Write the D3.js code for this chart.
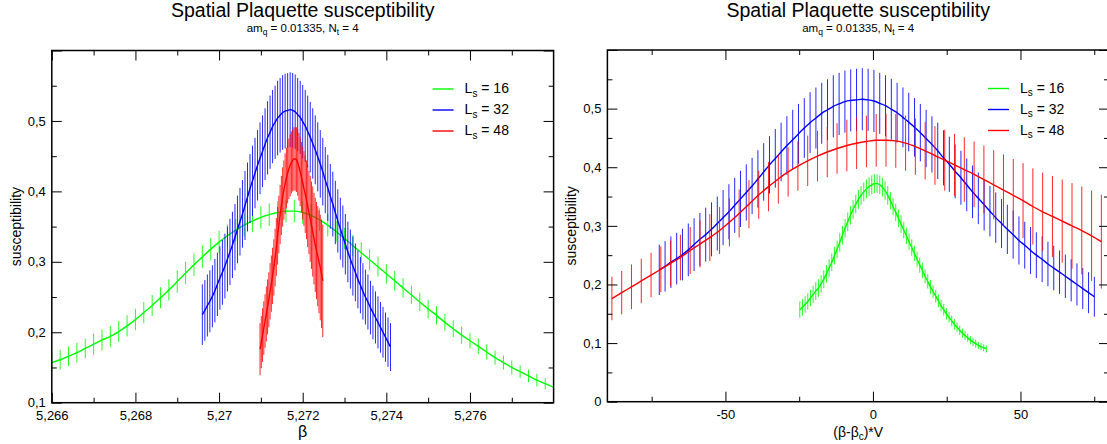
<!DOCTYPE html>
<html>
<head>
<meta charset="utf-8">
<script src="https://cdn.jsdelivr.net/npm/d3@7"></script>
<style>
  body { margin: 0; background: #fff; }
  text { font-family: "Liberation Sans", Arial, sans-serif; fill: #000; }
</style>
</head>
<body>
<svg id="chart" width="1107" height="444"></svg>
<script>
// ---- data ----
const latticeSizes = [16, 32, 48];
const seriesColors = ["#00ff00", "#0000ff", "#ff0000"];
// beta grid of each reweighted curve (first point, spacing)
const betaStart = [5.2660, 5.2696, 5.27098];
const betaStep = [0.0002, 0.00006, 0.00003];
// critical beta and volume factor used for the scaling plot
const betaCrit = [5.27149, 5.27181, 5.27178];
const scaleVolume = [4517, 32768, 110592];

const chiL16 = [0.157,0.161,0.166,0.171,0.177,0.183,0.189,0.194,0.201,0.209,
  0.218,0.228,0.238,0.249,0.260,0.272,0.284,0.296,0.307,0.318,
  0.328,0.337,0.345,0.352,0.358,0.363,0.367,0.370,0.372,0.372,
  0.370,0.366,0.360,0.352,0.343,0.333,0.323,0.313,0.303,0.293,
  0.283,0.273,0.263,0.253,0.243,0.233,0.224,0.214,0.205,0.196,
  0.188,0.180,0.172,0.164,0.157,0.150,0.144,0.138,0.132,0.127,
  0.122,0.117,0.113,0.109,0.105,0.102,0.099,0.096,0.094,0.092,
  0.090];
const errL16 = [0.014,0.014,0.014,0.014,0.014,0.015,0.015,0.015,0.015,0.015,
  0.015,0.015,0.015,0.015,0.015,0.016,0.016,0.016,0.016,0.016,
  0.016,0.016,0.016,0.016,0.016,0.016,0.016,0.016,0.016,0.016,
  0.016,0.016,0.016,0.016,0.015,0.015,0.015,0.015,0.015,0.014,
  0.014,0.014,0.014,0.013,0.013,0.013,0.013,0.012,0.012,0.012,
  0.011,0.011,0.011,0.010,0.010,0.010,0.009,0.009,0.009,0.008,
  0.008,0.008,0.008,0.007,0.007,0.007,0.007,0.006,0.006,0.006,
  0.006];

const chiL32 = [0.225,0.231,0.238,0.244,0.251,0.259,0.268,0.277,0.285,0.294,
  0.304,0.314,0.324,0.335,0.346,0.357,0.368,0.380,0.392,0.404,
  0.415,0.426,0.437,0.447,0.457,0.467,0.476,0.484,0.492,0.498,
  0.504,0.508,0.512,0.514,0.515,0.516,0.515,0.513,0.509,0.505,
  0.499,0.493,0.485,0.477,0.468,0.459,0.449,0.439,0.428,0.416,
  0.405,0.393,0.382,0.370,0.358,0.347,0.336,0.325,0.314,0.304,
  0.294,0.285,0.275,0.267,0.258,0.250,0.243,0.235,0.228,0.221,
  0.214,0.207,0.200,0.193,0.186,0.179];
const errL32 = [0.043,0.043,0.044,0.044,0.044,0.045,0.045,0.045,0.046,0.046,
  0.046,0.047,0.047,0.047,0.048,0.048,0.048,0.049,0.049,0.049,
  0.050,0.050,0.050,0.051,0.051,0.051,0.052,0.052,0.052,0.052,
  0.053,0.053,0.053,0.053,0.053,0.053,0.053,0.053,0.052,0.052,
  0.052,0.051,0.051,0.050,0.050,0.049,0.049,0.048,0.048,0.047,
  0.047,0.046,0.046,0.045,0.045,0.044,0.044,0.043,0.043,0.042,
  0.042,0.041,0.041,0.040,0.040,0.039,0.039,0.038,0.038,0.037,
  0.037,0.036,0.036,0.035,0.035,0.034];

const chiL48 = [0.176,0.186,0.196,0.206,0.216,0.226,0.236,0.246,0.258,0.269,
  0.280,0.292,0.306,0.321,0.337,0.353,0.367,0.380,0.392,0.402,
  0.411,0.419,0.426,0.432,0.437,0.441,0.444,0.446,0.446,0.445,
  0.441,0.435,0.428,0.420,0.412,0.404,0.396,0.388,0.379,0.370,
  0.361,0.352,0.343,0.333,0.324,0.316,0.308,0.300,0.292,0.283,
  0.273];
const errL48 = [0.037,0.037,0.038,0.038,0.038,0.039,0.039,0.039,0.040,0.040,
  0.040,0.040,0.041,0.041,0.041,0.041,0.042,0.042,0.042,0.042,
  0.043,0.043,0.043,0.043,0.044,0.044,0.044,0.045,0.045,0.046,
  0.047,0.048,0.049,0.050,0.052,0.053,0.055,0.056,0.058,0.059,
  0.061,0.062,0.064,0.065,0.067,0.069,0.071,0.073,0.075,0.077,
  0.080];

const chiSeries = [chiL16, chiL32, chiL48];
const errSeries = [errL16, errL32, errL48];

// ticks
const betaTicks = [5.266, 5.268, 5.270, 5.272, 5.274, 5.276];
const betaTickLabels = ["5,266", "5,268", "5,27", "5,272", "5,274", "5,276"];
const betaMinorTicks = [5.267, 5.269, 5.271, 5.273, 5.275, 5.277];
const scaledTicks = [-50, 0, 50];
const scaledTickLabels = ["-50", "0", "50"];
const scaledMinorTicks = [-75, -25, 25, 75];
const chiTicksLeft = [0.1, 0.2, 0.3, 0.4, 0.5, 0.6];
const chiTickLabelsLeft = ["0,1", "0,2", "0,3", "0,4", "0,5", ""];
const chiTicksRight = [0, 0.1, 0.2, 0.3, 0.4, 0.5, 0.6];
const chiTickLabelsRight = ["0", "0,1", "0,2", "0,3", "0,4", "0,5", ""];
const chiMinorLeft = [0.15, 0.25, 0.35, 0.45, 0.55];
const chiMinorRight = [0.05, 0.15, 0.25, 0.35, 0.45, 0.55];

// build points for each series
const series = latticeSizes.map((L, s) => ({
  L: L,
  color: seriesColors[s],
  points: chiSeries[s].map((chi, i) => {
    const beta = betaStart[s] + i * betaStep[s];
    return { beta: beta, scaled: (beta - betaCrit[s]) * scaleVolume[s], chi: chi, err: errSeries[s][i] };
  })
}));

const svg = d3.select("#chart");

const panels = [
  { id: "left", left: 51.8, right: 553.6, top: 50.5, bottom: 402.7,
    xDomain: [5.266, 5.278], yDomain: [0.1, 0.6], xKey: "beta",
    xTicks: betaTicks, xLabels: betaTickLabels, xMinor: betaMinorTicks,
    yTicks: chiTicksLeft, yLabels: chiTickLabelsLeft, yMinor: chiMinorLeft,
    xTitle: "beta" },
  { id: "right", left: 607.4, right: 1109, top: 50, bottom: 401.7,
    xDomain: [-90, 80], yDomain: [0, 0.6], xKey: "scaled",
    xTicks: scaledTicks, xLabels: scaledTickLabels, xMinor: scaledMinorTicks,
    yTicks: chiTicksRight, yLabels: chiTickLabelsRight, yMinor: chiMinorRight,
    xTitle: "scaled" }
];

panels.forEach(p => {
  const x = d3.scaleLinear().domain(p.xDomain).range([p.left, p.right]);
  const y = d3.scaleLinear().domain(p.yDomain).range([p.bottom, p.top]);
  const g = svg.append("g").attr("class", "panel-" + p.id);

  g.append("clipPath").attr("id", "clip-" + p.id)
    .append("rect")
    .attr("x", p.left).attr("y", p.top)
    .attr("width", p.right - p.left).attr("height", p.bottom - p.top);

  const plot = g.append("g").attr("clip-path", `url(#clip-${p.id})`);

  series.forEach(s => {
    const sg = plot.append("g");
    sg.selectAll("line.err")
      .data(s.points)
      .enter()
      .append("line")
      .attr("class", "err")
      .attr("x1", d => x(d[p.xKey]))
      .attr("x2", d => x(d[p.xKey]))
      .attr("y1", d => y(d.chi - d.err))
      .attr("y2", d => y(d.chi + d.err))
      .attr("stroke", s.color)
      .attr("stroke-opacity", 0.85)
      .attr("stroke-width", 1);

    sg.append("path")
      .datum(s.points)
      .attr("fill", "none")
      .attr("stroke", s.color)
      .attr("stroke-width", 1.4)
      .attr("d", d3.line().x(d => x(d[p.xKey])).y(d => y(d.chi)).curve(d3.curveMonotoneX));
  });

  // axes, ticks pointing inward on all four sides
  const styleAxis = a => {
    a.select(".domain").remove();
    a.selectAll("line").attr("stroke", "#000");
    a.selectAll("text").attr("font-size", 13).attr("font-family", '"Liberation Sans", Arial, sans-serif').attr("fill", "#000");
  };
  g.append("g").attr("transform", `translate(0,${p.bottom})`)
    .call(d3.axisBottom(x).tickValues(p.xTicks).tickFormat((d, i) => p.xLabels[i]).tickSize(-10).tickPadding(8.5))
    .call(styleAxis);
  g.append("g").attr("transform", `translate(0,${p.bottom})`)
    .call(d3.axisBottom(x).tickValues(p.xMinor).tickFormat("").tickSize(-5))
    .call(styleAxis);
  g.append("g").attr("transform", `translate(0,${p.top})`)
    .call(d3.axisTop(x).tickValues(p.xTicks).tickFormat("").tickSize(-10))
    .call(styleAxis);
  g.append("g").attr("transform", `translate(0,${p.top})`)
    .call(d3.axisTop(x).tickValues(p.xMinor).tickFormat("").tickSize(-5))
    .call(styleAxis);
  g.append("g").attr("transform", `translate(${p.left},0)`)
    .call(d3.axisLeft(y).tickValues(p.yTicks).tickFormat((d, i) => p.yLabels[i]).tickSize(-10).tickPadding(6))
    .call(styleAxis);
  g.append("g").attr("transform", `translate(${p.left},0)`)
    .call(d3.axisLeft(y).tickValues(p.yMinor).tickFormat("").tickSize(-5))
    .call(styleAxis);
  g.append("g").attr("transform", `translate(${p.right},0)`)
    .call(d3.axisRight(y).tickValues(p.yTicks).tickFormat("").tickSize(-10))
    .call(styleAxis);
  g.append("g").attr("transform", `translate(${p.right},0)`)
    .call(d3.axisRight(y).tickValues(p.yMinor).tickFormat("").tickSize(-5))
    .call(styleAxis);

  // frame
  g.append("rect")
    .attr("x", p.left).attr("y", p.top)
    .attr("width", p.right - p.left).attr("height", p.bottom - p.top)
    .attr("fill", "none").attr("stroke", "#000").attr("stroke-width", 1.5);

  const cx = (p.left + p.right) / 2;

  // titles
  g.append("text").attr("x", cx).attr("y", 17.3)
    .attr("text-anchor", "middle").attr("font-size", 19.5)
    .text("Spatial Plaquette susceptibility");
  const sub = g.append("text").attr("x", cx).attr("y", 32.3)
    .attr("text-anchor", "middle").attr("font-size", 11.5);
  sub.append("tspan").text("am");
  sub.append("tspan").attr("font-size", 8.5).attr("dy", 2.5).text("q");
  sub.append("tspan").attr("dy", -2.5).text(" = 0.01335, N");
  sub.append("tspan").attr("font-size", 8.5).attr("dy", 2.5).text("t");
  sub.append("tspan").attr("dy", -2.5).text(" = 4");

  // axis labels
  g.append("text")
    .attr("transform", `translate(${p.left - 31},${(p.top + p.bottom) / 2}) rotate(-90)`)
    .attr("text-anchor", "middle").attr("font-size", 14)
    .text("susceptibility");
  if (p.xTitle === "beta") {
    g.append("text").attr("x", cx).attr("y", 437)
      .attr("text-anchor", "middle").attr("font-size", 16).text("β");
  } else {
    const t = g.append("text").attr("x", cx).attr("y", 436.5)
      .attr("text-anchor", "middle").attr("font-size", 14);
    t.append("tspan").text("(β-β");
    t.append("tspan").attr("font-size", 10).attr("dy", 3).text("c");
    t.append("tspan").attr("dy", -3).text(")*V");
  }

  // legend
  series.forEach((s, i) => {
    const ly = p.top + 38.5 + i * 21;
    g.append("line")
      .attr("x1", p.right - 121).attr("x2", p.right - 100)
      .attr("y1", ly).attr("y2", ly)
      .attr("stroke", s.color).attr("stroke-width", 1.4);
    const t = g.append("text").attr("x", p.right - 89).attr("y", ly + 4).attr("font-size", 14);
    t.append("tspan").text("L");
    t.append("tspan").attr("font-size", 10).attr("dy", 3.5).text("s");
    t.append("tspan").attr("dy", -3.5).text(" = " + s.L);
  });
});
</script>
</body>
</html>
